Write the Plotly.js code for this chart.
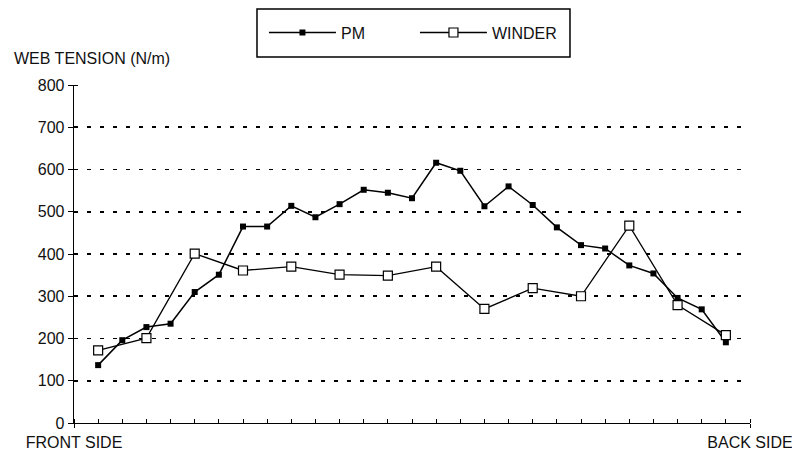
<!DOCTYPE html>
<html>
<head>
<meta charset="utf-8">
<script src="https://cdn.plot.ly/plotly-3.0.1.min.js"></script>
<style>html,body{margin:0;padding:0;background:#fff;}#chart{width:792px;height:455px;}</style>
</head>
<body>
<div id="chart"></div>
<script>
// Positions across the web (tick index from front side to back side)
const pmPositions = [1,2,3,4,5,6,7,8,9,10,11,12,13,14,15,16,17,18,19,20,21,22,23,24,25,26,27];
const pmTension = [137,196,227,235,310,351,465,465,514,487,518,552,545,532,616,597,513,560,516,463,421,413,373,354,296,269,191];
const winderPositions = [1,3,5,7,9,11,13,15,17,19,21,23,25,27];
const winderTension = [172,201,401,361,370,351,349,370,270,319,300,467,279,208];
const yTicks = [0,100,200,300,400,500,600,700,800];
const xTickPositions = [0,1,2,3,4,5,6,7,8,9,10,11,12,13,14,15,16,17,18,19,20,21,22,23,24,25,26,27,28];
const sideLabels = {0: 'FRONT SIDE', 28: 'BACK SIDE'};
const seriesNames = ['PM', 'WINDER'];
const yTitle = 'WEB TENSION (N/m)';

const FONT = 'Liberation Sans, Arial, Helvetica, sans-serif';
const xTickText = xTickPositions.map(v => sideLabels[v] || '');

const traces = [
  {
    x: pmPositions, y: pmTension, name: seriesNames[0], type: 'scatter', mode: 'lines+markers',
    line: {color: '#000', width: 1.5},
    marker: {symbol: 'square', size: 6, color: '#000'}
  },
  {
    x: winderPositions, y: winderTension, name: seriesNames[1], type: 'scatter', mode: 'lines+markers',
    line: {color: '#000', width: 1.3},
    marker: {symbol: 'square', size: 9, color: '#fff', line: {color: '#000', width: 1.2}}
  }
];

const layout = {
  width: 792, height: 455,
  margin: {l: 74, r: 42, t: 85, b: 32},
  paper_bgcolor: '#fff', plot_bgcolor: '#fff',
  font: {family: FONT, size: 16, color: '#111'},
  showlegend: true,
  legend: {
    orientation: 'h', x: 0.281, xanchor: 'left', y: 1.155, yanchor: 'middle',
    bgcolor: 'rgba(0,0,0,0)', borderwidth: 0, itemwidth: 67,
    entrywidth: 69, font: {family: FONT, size: 16, color: '#111'}
  },
  xaxis: {
    range: [0, 28], tickmode: 'array', tickvals: xTickPositions, ticktext: xTickText,
    ticks: 'outside', ticklen: 4, tickwidth: 1, tickcolor: '#000',
    minor: {tickmode: 'array', tickvals: xTickPositions, ticks: 'inside', ticklen: 4, tickwidth: 1, tickcolor: '#000', showgrid: false},
    showline: true, linecolor: '#000', linewidth: 1.3,
    showgrid: false, zeroline: false, fixedrange: true, ticklabeloverflow: 'allow',
    tickfont: {family: FONT, size: 16, color: '#111'}
  },
  yaxis: {
    range: [0, 800], tickmode: 'array', tickvals: yTicks,
    ticks: 'outside', ticklen: 5, tickwidth: 1, tickcolor: '#000',
    minor: {tickmode: 'array', tickvals: yTicks, ticks: 'inside', ticklen: 4, tickwidth: 1, tickcolor: '#000', showgrid: false},
    showline: true, linecolor: '#000', linewidth: 1.3,
    showgrid: true, gridcolor: '#000', gridwidth: 1.8, griddash: '4px,9px',
    zeroline: false, fixedrange: true,
    tickfont: {family: FONT, size: 16, color: '#111'}
  },
  shapes: [
    {type: 'rect', xref: 'paper', yref: 'paper', x0: 0.2707, x1: 0.7337, y0: 1.0828, y1: 1.2249,
     line: {color: '#000', width: 1.5}, fillcolor: 'rgba(0,0,0,0)', layer: 'above'}
  ],
  annotations: [
    {text: yTitle, xref: 'paper', yref: 'paper', x: -0.092, y: 1.077, xanchor: 'left', yanchor: 'middle',
     showarrow: false, font: {family: FONT, size: 16, color: '#111'}}
  ]
};

Plotly.newPlot('chart', traces, layout, {displayModeBar: false, staticPlot: true});
</script>
</body>
</html>
